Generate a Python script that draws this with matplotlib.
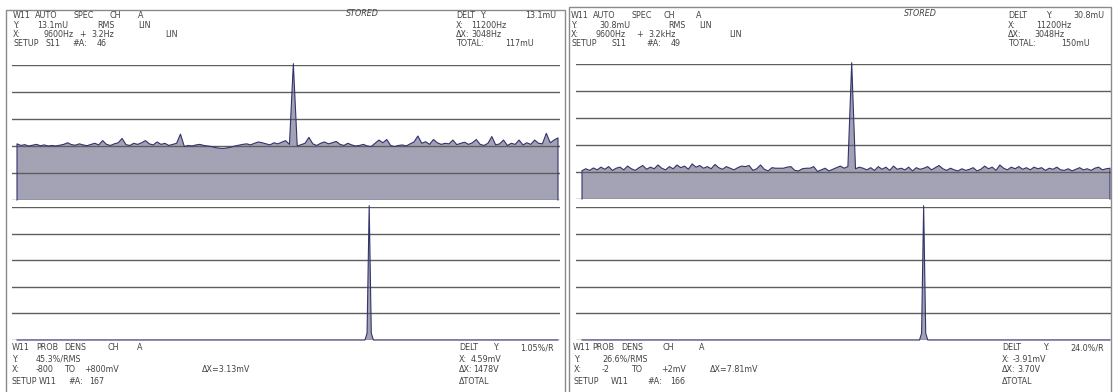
#%%
# analyser screen dump: autospectrum + probability density, two records

# IMPORTS #######################################

import numpy as np
import matplotlib
matplotlib.use('Agg')
import matplotlib.pyplot as plt
from matplotlib.patches import Rectangle

# SETUP #########################################

FONT = ['DejaVu Sans']
plt.rcParams.update({
    'font.family': FONT,
    'font.size': 7,
    'hatch.linewidth': 0.35,
})

W, H = 1113, 392  # figure size in px

TRACE = '#33336e'
HATCH = '#a2a2b4'
GRID = '#5e5e5e'
TEXT = '#444444'

# DATA ##########################################

# record 1: autospectrum (divisions above bottom line), 140 bins
spec_left = [
    2.08, 2.02, 2.05, 2.00, 2.03, 2.06, 2.01, 2.04, 2.00, 2.02,
    2.00, 2.03, 2.06, 2.12, 2.05, 2.03, 2.08, 2.04, 2.01, 2.06,
    2.10, 2.04, 2.20, 2.06, 2.02, 2.08, 2.12, 2.28, 2.05, 2.02,
    2.10, 2.06, 2.12, 2.20, 2.08, 2.04, 2.15, 2.06, 2.10, 2.02,
    2.06, 2.10, 2.44, 1.98, 2.02, 2.00, 2.04, 2.06, 2.02, 2.00,
    1.98, 1.94, 1.92, 1.91, 1.93, 1.96, 2.00, 2.03, 2.06, 2.08,
    2.04, 2.10, 2.15, 2.12, 2.08, 2.04, 2.12, 2.08, 2.14, 2.20,
    2.06, 5.05, 2.00, 2.05, 2.10, 2.32, 2.08, 2.02, 2.10, 2.15,
    2.08, 2.12, 2.17, 2.06, 2.02, 2.10, 2.04, 2.00, 2.02, 2.06,
    2.00, 1.98, 2.10, 2.22, 2.12, 2.24, 2.02, 1.98, 2.02, 2.04,
    2.00, 2.08, 2.15, 2.37, 2.10, 2.16, 2.06, 2.24, 2.12, 2.06,
    2.10, 2.08, 2.22, 2.05, 2.10, 2.14, 2.06, 2.12, 2.24, 2.06,
    2.02, 2.10, 2.35, 2.04, 2.08, 2.22, 2.02, 2.10, 2.06, 2.22,
    2.04, 2.12, 2.06, 2.22, 2.10, 2.08, 2.47, 2.12, 2.22, 2.30,
]

# record 2: autospectrum, 140 bins
spec_right = [
    1.05, 1.12, 1.06, 1.15, 1.08, 1.18, 1.10, 1.20, 1.06, 1.14,
    1.18, 1.08, 1.22, 1.12, 1.06, 1.16, 1.24, 1.10, 1.18, 1.12,
    1.26, 1.14, 1.08, 1.20, 1.12, 1.26, 1.16, 1.22, 1.10, 1.30,
    1.18, 1.24, 1.14, 1.20, 1.12, 1.28, 1.16, 1.10, 1.20, 1.14,
    1.08, 1.16, 1.22, 1.20, 1.24, 1.06, 1.12, 1.26, 1.10, 1.04,
    1.16, 1.14, 1.14, 1.14, 1.18, 1.20, 1.06, 1.04, 1.12, 1.14,
    1.14, 1.20, 1.02, 1.08, 1.14, 1.04, 1.10, 1.16, 1.22, 1.14,
    1.20, 5.05, 1.12, 1.18, 1.14, 1.08, 1.16, 1.06, 1.20, 1.10,
    1.18, 1.06, 1.22, 1.10, 1.14, 1.08, 1.18, 1.04, 1.16, 1.10,
    1.14, 1.20, 1.08, 1.16, 1.24, 1.12, 1.06, 1.14, 1.08, 1.04,
    1.12, 1.06, 1.10, 1.16, 1.04, 1.10, 1.22, 1.12, 1.18, 1.06,
    1.26, 1.14, 1.08, 1.18, 1.12, 1.20, 1.10, 1.16, 1.08, 1.18,
    1.12, 1.16, 1.06, 1.14, 1.10, 1.18, 1.08, 1.06, 1.12, 1.04,
    1.10, 1.16, 1.08, 1.12, 1.06, 1.14, 1.18, 1.08, 1.12, 1.14,
]

# probability density: 256 amplitude bins, only non-zero bins listed
N_PROB = 256
prob_left_bins = [165, 166, 167]
prob_left_vals = [0.25, 5.05, 0.25]
prob_right_bins = [164, 165, 166]
prob_right_vals = [0.25, 5.05, 0.25]

# FIGURE ########################################

fig = plt.figure(figsize=(W / 100, H / 100), dpi=100)
fig.patch.set_facecolor('white')


def box(x0, y0, x1, y1):
    # pixel box (top-left origin) -> figure fraction [l, b, w, h]
    return [x0 / W, 1 - y1 / H, (x1 - x0) / W, (y1 - y0) / H]


def txt(x, y, s, **kw):
    fig.text(x / W, 1 - y / H, s, ha='left', va='center',
             color=TEXT, fontsize=6.4, family=FONT,
             fontstretch='condensed', **kw)


def trace_panel(rect, vals, x_first, x_last, nlines=6):
    # rect = grid-line box in px, x_first/x_last = px of first/last bin
    x0, y0, x1, y1 = rect
    ax = fig.add_axes(box(*rect))
    ax.set_axis_off()
    n = len(vals)
    step = (x_last - x_first) / (n - 1)
    ax.set_xlim(-(x_first - x0) / step, n - 1 + (x1 - x_last) / step)
    ax.set_ylim(0, nlines - 1)
    for i in range(nlines):
        ax.axhline(i, color=GRID, lw=1.0, zorder=2.5)
    xb = np.arange(n)
    v = np.asarray(vals, dtype=float)
    # 25 hatch lines per inch -> 4 px pitch at 100 dpi, no moire;
    # transparent face, grid lines drawn on top of the hatch
    ax.fill_between(xb, 0, v, facecolor='none', edgecolor=HATCH,
                    hatch='x' * 25, lw=0, zorder=2, clip_on=False)
    xs = np.concatenate([[0], xb, [n - 1]])
    ys = np.concatenate([[0], v, [0]])
    ax.plot(xs, ys, color=TRACE, lw=0.8, zorder=3, clip_on=False)
    return ax


def prob_array(bins, vals):
    a = np.zeros(N_PROB)
    a[bins] = vals
    return a


# PANEL BORDERS ##############

for (bx0, by0, bx1, by1) in [(6, 10, 565, 395), (569, 7, 1111, 395)]:
    fig.add_artist(Rectangle((bx0 / W, 1 - by1 / H), (bx1 - bx0) / W,
                             (by1 - by0) / H, transform=fig.transFigure,
                             fill=False, edgecolor='#8a8a8a', lw=1.0))

# PLOTS ######################

trace_panel((12, 65, 560, 200), spec_left, 17, 558)
trace_panel((576, 64, 1111, 199), spec_right, 582, 1110)
trace_panel((12, 207, 560, 340), prob_array(prob_left_bins, prob_left_vals), 17, 558)
trace_panel((576, 207, 1111, 340), prob_array(prob_right_bins, prob_right_vals), 582, 1110)

# TEXT: RECORD 1 #############

r1 = [15, 25, 34.5, 44]
for x, s in [(13, 'W11'), (35, 'AUTO'), (73, 'SPEC'), (110, 'CH'), (138, 'A')]:
    txt(x, r1[0], s)
for x, s in [(13, 'Y:'), (37, '13.1mU'), (97, 'RMS'), (138, 'LIN')]:
    txt(x, r1[1], s)
for x, s in [(13, 'X:'), (43, '9600Hz'), (79, '+'), (91, '3.2Hz'), (165, 'LIN')]:
    txt(x, r1[2], s)
for x, s in [(13, 'SETUP'), (45, 'S11'), (72, '#A:'), (97, '46')]:
    txt(x, r1[3], s)
txt(346, 13, 'STORED', style='italic')
for x, s in [(456, 'DELT'), (480, 'Y:'), (525, '13.1mU')]:
    txt(x, r1[0], s)
txt(456, r1[1], 'X:'); txt(471, r1[1], '11200Hz')
txt(456, r1[2], 'ΔX:'); txt(471, r1[2], '3048Hz')
txt(456, r1[3], 'TOTAL:'); txt(505, r1[3], '117mU')

r3 = [348, 359, 370, 381]
for x, s in [(12, 'W11'), (36, 'PROB'), (64, 'DENS'), (107, 'CH'), (137, 'A')]:
    txt(x, r3[0], s)
txt(12, r3[1], 'Y:'); txt(36, r3[1], '45.3%/RMS')
for x, s in [(12, 'X:'), (36, '-800'), (64, 'TO'), (84, '+800mV'), (202, 'ΔX=3.13mV')]:
    txt(x, r3[2], s)
for x, s in [(12, 'SETUP'), (39, 'W11'), (68, '#A:'), (89, '167')]:
    txt(x, r3[3], s)
for x, s in [(459, 'DELT'), (493, 'Y:'), (520, '1.05%/R')]:
    txt(x, r3[0], s)
txt(459, r3[1], 'X:'); txt(471, r3[1], '4.59mV')
txt(459, r3[2], 'ΔX:'); txt(473, r3[2], '1478V')
txt(459, r3[3], 'ΔTOTAL')

# TEXT: RECORD 2 #############

for x, s in [(571, 'W11'), (593, 'AUTO'), (631, 'SPEC'), (664, 'CH'), (696, 'A')]:
    txt(x, r1[0], s)
for x, s in [(571, 'Y:'), (599, '30.8mU'), (668, 'RMS'), (699, 'LIN')]:
    txt(x, r1[1], s)
for x, s in [(571, 'X:'), (596, '9600Hz'), (636, '+'), (648, '3.2kHz'), (729, 'LIN')]:
    txt(x, r1[2], s)
for x, s in [(571, 'SETUP'), (611, 'S11'), (646, '#A:'), (671, '49')]:
    txt(x, r1[3], s)
txt(904, 13, 'STORED', style='italic')
for x, s in [(1008, 'DELT'), (1046, 'Y:'), (1073, '30.8mU')]:
    txt(x, r1[0], s)
txt(1008, r1[1], 'X:'); txt(1036, r1[1], '11200Hz')
txt(1008, r1[2], 'ΔX:'); txt(1034, r1[2], '3048Hz')
txt(1008, r1[3], 'TOTAL:'); txt(1061, r1[3], '150mU')

for x, s in [(573, 'W11'), (592, 'PROB'), (621, 'DENS'), (663, 'CH'), (699, 'A')]:
    txt(x, r3[0], s)
txt(574, r3[1], 'Y:'); txt(602, r3[1], '26.6%/RMS')
for x, s in [(574, 'X:'), (602, '-2'), (631, 'TO'), (661, '+2mV'), (710, 'ΔX=7.81mV')]:
    txt(x, r3[2], s)
for x, s in [(574, 'SETUP'), (611, 'W11'), (647, '#A:'), (670, '166')]:
    txt(x, r3[3], s)
for x, s in [(1002, 'DELT'), (1043, 'Y:'), (1070, '24.0%/R')]:
    txt(x, r3[0], s)
txt(1002, r3[1], 'X:'); txt(1013, r3[1], '-3.91mV')
txt(1002, r3[2], 'ΔX:'); txt(1017, r3[2], '3.70V')
txt(1002, r3[3], 'ΔTOTAL')

# EXPORT #########################################

fig.savefig('out.png', dpi=100, facecolor='white')
# %%
